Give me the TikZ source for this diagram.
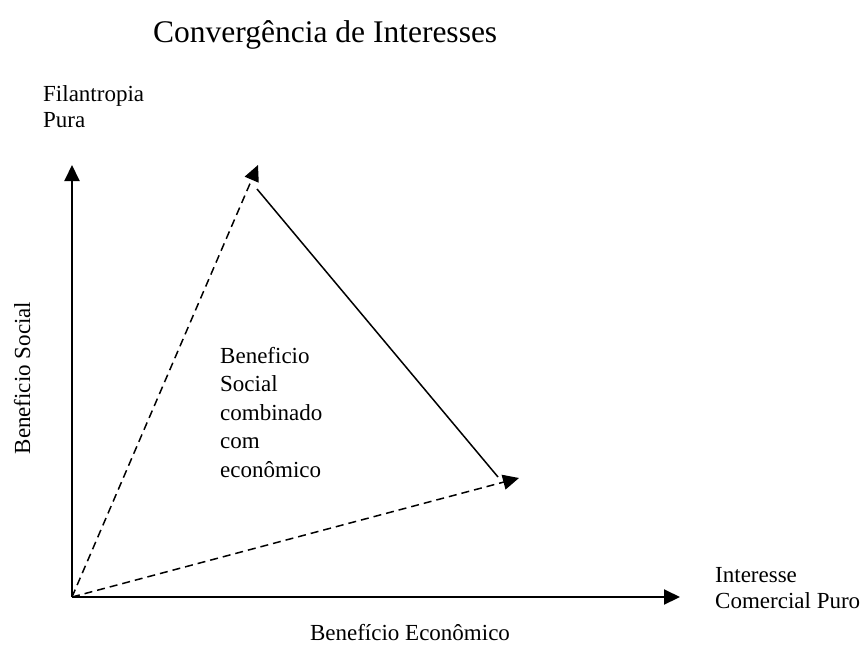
\documentclass[tikz,border=0pt]{standalone}
\usepackage{fontspec}
\setmainfont{Liberation Serif}
\usetikzlibrary{arrows.meta}

\begin{document}
\begin{tikzpicture}[x=1pt,y=-1pt,
    axis/.style={line width=2pt,-{Triangle[length=16pt,width=15pt]}},
    dline/.style={line width=1.5pt,dash pattern=on 8pt off 5pt,-{Triangle[length=16pt,width=15pt]}},
    lbl/.style={anchor=base west,align=left,inner sep=0pt,font=\fontsize{23}{26}\selectfont}]
    \useasboundingbox (0,0) rectangle (867,646);
    \coordinate (O) at (72,597);
    \coordinate (ytip) at (72,165);
    \coordinate (xtip) at (680,597);
    \coordinate (top) at (258,165);
    \coordinate (right) at (519,478);
    \coordinate (s1) at (257,189);
    \coordinate (s2) at (498,477);
    % axes
    \draw[axis] (O)--(ytip);
    \draw[axis] (O)--(xtip);
    % triangle
    \draw[dline] (O)--(top);
    \draw[dline] (O)--(right);
    \draw[line width=1.5pt] (s1)--(s2);
    % labels (base = last line)
    \node[font=\fontsize{31.5}{36}\selectfont,anchor=base west,inner sep=0pt] (title) at (153,42) {Convergência de Interesses};
    \node[lbl] (fil) at (43,127) {Filantropia\\Pura};
    \node[lbl] (com) at (715,608) {Interesse\\Comercial Puro};
    \node[lbl,font=\fontsize{23}{28.5}\selectfont] (mid) at (220,477) {Beneficio\\Social\\combinado\\com\\econômico};
    \node[font=\fontsize{23}{26}\selectfont,anchor=base,inner sep=0pt,rotate=90] (ylab) at (30,378) {Beneficio Social};
    \node[font=\fontsize{23}{26}\selectfont,anchor=base,inner sep=0pt] (xlab) at (410,640) {Benefício Econômico};
\end{tikzpicture}
\end{document}
